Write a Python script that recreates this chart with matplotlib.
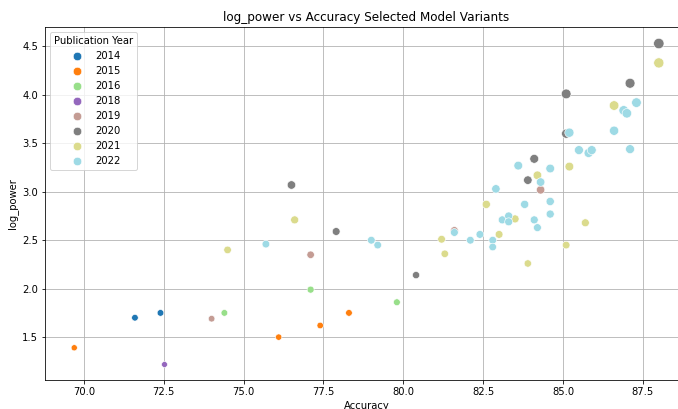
import numpy as np
import matplotlib
matplotlib.use("Agg")
import matplotlib.pyplot as plt
from matplotlib.lines import Line2D

# --- data (Accuracy, log_power) per publication year ---
years = [2014, 2015, 2016, 2018, 2019, 2020, 2021, 2022]
colors = ["#1f77b4", "#ff7f0e", "#98df8a", "#9467bd",
          "#c49c94", "#7f7f7f", "#dbdb8d", "#9edae5"]

acc_2014 = [71.6, 72.4]
pow_2014 = [1.70, 1.75]

acc_2015 = [69.7, 76.1, 77.4, 78.3]
pow_2015 = [1.39, 1.50, 1.62, 1.75]

acc_2016 = [74.4, 77.1, 79.8]
pow_2016 = [1.75, 1.99, 1.86]

acc_2018 = [72.5]
pow_2018 = [1.22]

acc_2019 = [74.0, 77.1, 81.6, 84.3]
pow_2019 = [1.69, 2.35, 2.60, 3.02]

acc_2020 = [76.5, 77.9, 80.4, 83.9, 84.1, 85.1, 85.1, 87.1, 88.0]
pow_2020 = [3.07, 2.59, 2.14, 3.12, 3.34, 3.60, 4.01, 4.12, 4.53]

acc_2021 = [74.5, 76.6, 81.2, 81.3, 82.6, 83.0, 83.5, 83.9, 84.2,
            85.1, 85.2, 85.7, 86.6, 88.0]
pow_2021 = [2.40, 2.71, 2.51, 2.36, 2.87, 2.56, 2.72, 2.26, 3.17,
            2.45, 3.26, 2.68, 3.89, 4.33]

acc_2022 = [75.7, 79.0, 79.2, 81.6, 82.1, 82.4, 82.8, 82.8, 82.9, 83.1,
            83.3, 83.3, 83.6, 83.8, 84.1, 84.2, 84.3, 84.6, 84.6, 84.6,
            85.2, 85.5, 85.8, 85.9, 86.6, 86.9, 87.0, 87.1, 87.3]
pow_2022 = [2.46, 2.50, 2.45, 2.58, 2.50, 2.56, 2.50, 2.43, 3.03, 2.71,
            2.75, 2.69, 3.27, 2.87, 2.71, 2.63, 3.10, 2.90, 2.77, 3.24,
            3.61, 3.43, 3.40, 3.43, 3.63, 3.84, 3.81, 3.44, 3.92]

acc = [acc_2014, acc_2015, acc_2016, acc_2018, acc_2019, acc_2020, acc_2021, acc_2022]
pw = [pow_2014, pow_2015, pow_2016, pow_2018, pow_2019, pow_2020, pow_2021, pow_2022]

# --- plot ---
fig = plt.figure(figsize=(678 / 72, 409 / 72), dpi=72)
ax = fig.add_axes([0.0664, 0.0702, 0.9484, 0.8626])

for yr, c, xs, ys in zip(years, colors, acc, pw):
    ys = np.array(ys, dtype=float)
    sizes = (4.3 + 1.35 * ys) ** 2
    ax.scatter(xs, ys, s=sizes, color=c, edgecolor="white", linewidth=0.6, zorder=3)

ax.grid(True, color="#b0b0b0", linewidth=1.0, alpha=0.8, zorder=0)
ax.set_axisbelow(True)
ax.set_xlabel("Accuracy")
ax.set_ylabel("log_power")
ax.set_title("log_power vs Accuracy Selected Model Variants")

handles = [Line2D([], [], marker="o", linestyle="", markersize=8.5,
                  markerfacecolor=c, markeredgecolor="white", markeredgewidth=0.6)
           for c in colors]
ax.legend(handles, [str(y) for y in years], title="Publication Year", loc="upper left")

fig.savefig("out.png", dpi=72)
